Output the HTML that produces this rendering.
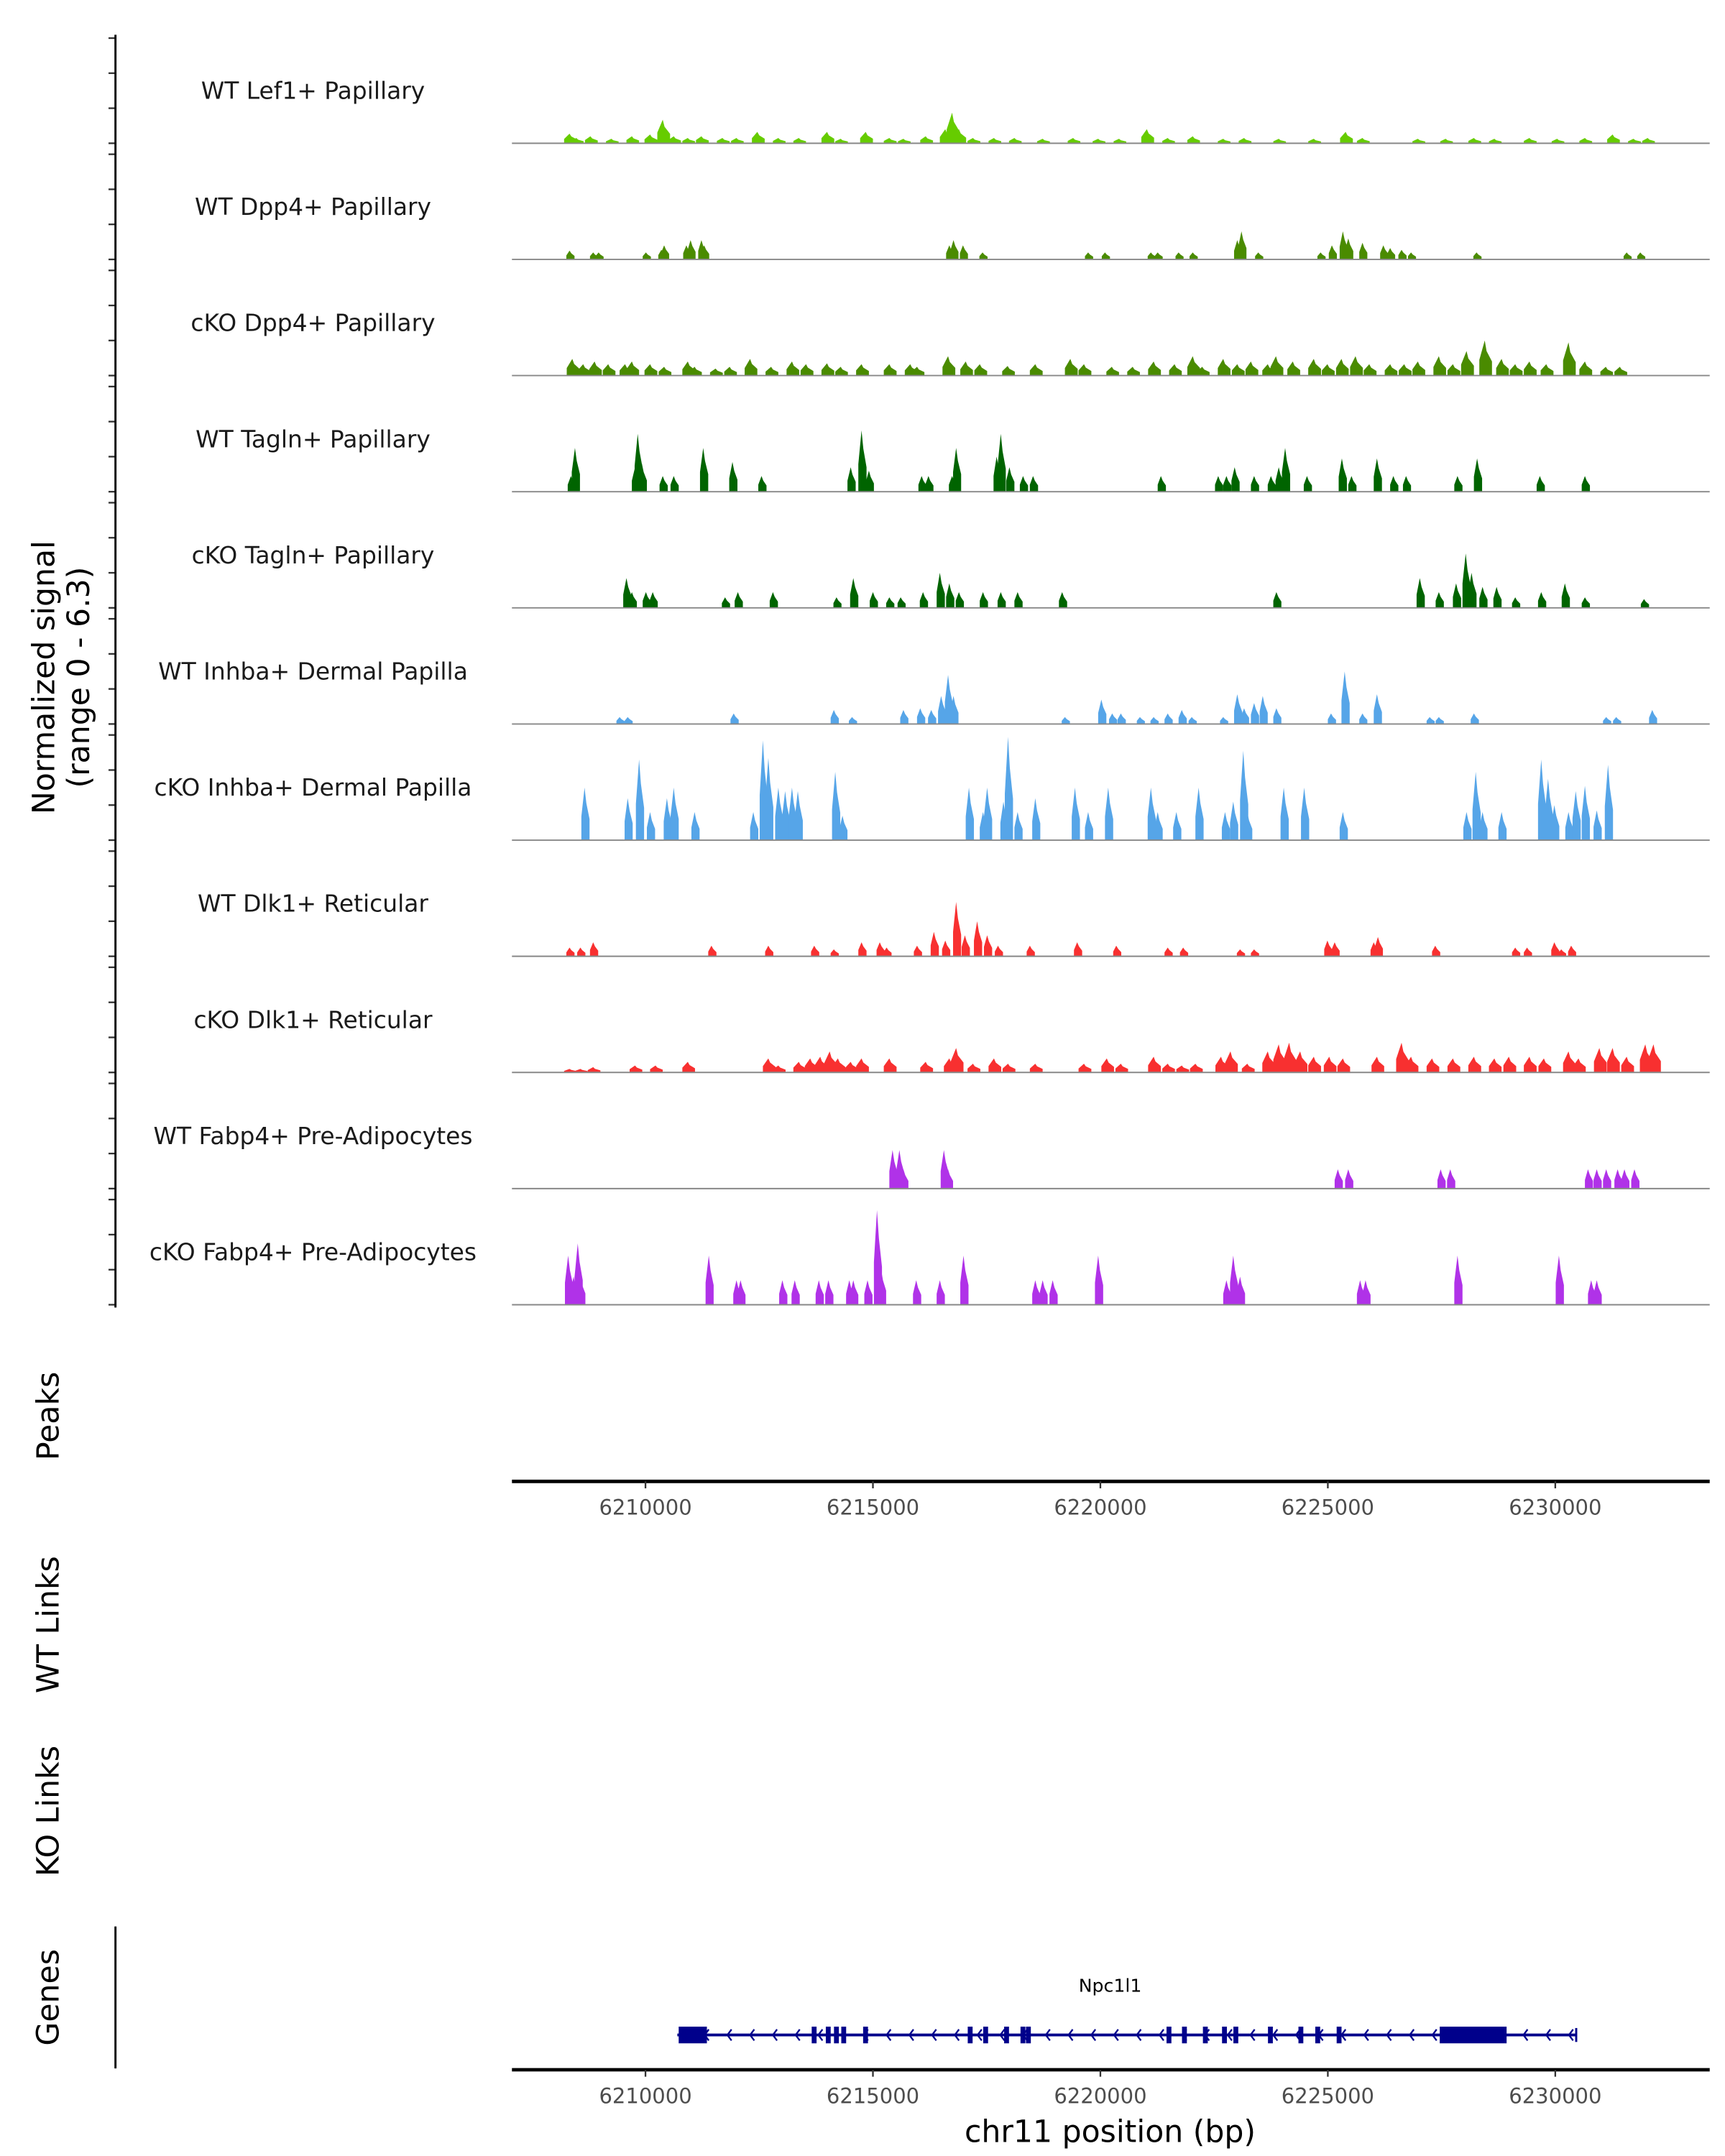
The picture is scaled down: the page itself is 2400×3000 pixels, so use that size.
<!DOCTYPE html>
<html><head><meta charset="utf-8">
<style>html,body{margin:0;padding:0;background:#fff}svg{display:block}text{font-family:"DejaVu Sans","Liberation Sans",sans-serif}</style>
</head><body>
<svg id="chart" xmlns="http://www.w3.org/2000/svg" width="2400" height="3000" viewBox="0 0 1240 1550">
<rect width="1240" height="1550" fill="#fff"/>
<g id="tracks"></g>
<g id="axes"></g>
</svg>
<script>
// ---- data (positions in kb on chr11, signal values) ----
const trackNames = ["WT Lef1+ Papillary","WT Dpp4+ Papillary","cKO Dpp4+ Papillary","WT Tagln+ Papillary","cKO Tagln+ Papillary","WT Inhba+ Dermal Papilla","cKO Inhba+ Dermal Papilla","WT Dlk1+ Reticular","cKO Dlk1+ Reticular","WT Fabp4+ Pre-Adipocytes","cKO Fabp4+ Pre-Adipocytes"];
const trackColors = ["#66cc00","#4a8b00","#4a8b00","#006400","#006400","#56a5e8","#56a5e8","#f83030","#f83030","#b032e8","#b032e8"];
const lef1Pos = [6208.35,6208.50,6208.81,6209.27,6209.72,6210.12,6210.40,6210.64,6210.95,6211.25,6211.71,6212.02,6212.48,6212.94,6213.39,6214.01,6214.31,6214.86,6215.38,6215.69,6216.18,6216.61,6216.76,6216.91,6217.22,6217.68,6218.13,6218.75,6219.42,6219.97,6220.43,6221.04,6221.50,6222.05,6222.72,6223.18,6223.94,6224.71,6225.41,6225.78,6227.00,6227.61,6228.23,6228.68,6229.45,6230.06,6230.67,6231.28,6231.74,6232.05];
const lef1Val = [0.55,0.3,0.4,0.25,0.4,0.5,1.35,0.4,0.3,0.4,0.3,0.3,0.65,0.3,0.3,0.65,0.25,0.65,0.3,0.25,0.4,0.8,1.75,0.8,0.3,0.3,0.3,0.25,0.3,0.25,0.25,0.8,0.3,0.4,0.25,0.3,0.25,0.25,0.65,0.3,0.25,0.25,0.3,0.25,0.3,0.25,0.3,0.5,0.25,0.3];
const wtDppPos = [6208.35,6208.87,6208.99,6210.03,6210.37,6210.43,6210.92,6211.01,6211.25,6211.31,6216.70,6216.79,6217.00,6217.43,6219.75,6220.12,6221.13,6221.28,6221.74,6222.05,6223.03,6223.12,6223.49,6224.86,6225.11,6225.35,6225.47,6225.78,6226.24,6226.39,6226.64,6226.85,6228.29,6231.59,6231.89];
const wtDppVal = [0.5,0.4,0.4,0.4,0.55,0.8,0.8,1.1,1.1,0.8,0.8,1.1,0.8,0.4,0.4,0.4,0.4,0.4,0.4,0.4,1.1,1.6,0.4,0.4,0.8,1.6,1.2,0.95,0.8,0.65,0.55,0.4,0.4,0.4,0.4];
const koDppPos = [6208.41,6208.65,6208.90,6209.20,6209.57,6209.72,6210.12,6210.43,6210.95,6211.10,6211.56,6211.87,6212.32,6212.78,6213.24,6213.55,6214.01,6214.31,6214.77,6215.38,6215.84,6215.99,6216.67,6217.06,6217.37,6217.98,6218.59,6219.36,6219.66,6220.27,6220.73,6221.19,6221.65,6222.05,6222.26,6222.72,6223.03,6223.33,6223.70,6223.88,6224.25,6224.71,6225.01,6225.32,6225.63,6225.93,6226.39,6226.70,6227.00,6227.46,6227.77,6228.07,6228.47,6228.84,6229.14,6229.45,6229.82,6230.31,6230.67,6231.13,6231.44];
const koDppVal = [0.95,0.65,0.8,0.65,0.65,0.8,0.65,0.5,0.8,0.5,0.4,0.5,0.95,0.5,0.8,0.65,0.7,0.5,0.65,0.65,0.65,0.5,1.1,0.8,0.65,0.55,0.65,0.95,0.65,0.5,0.5,0.8,0.65,1.1,0.5,0.95,0.65,0.8,0.65,1.1,0.8,0.95,0.65,0.95,1.1,0.65,0.65,0.65,0.8,1.1,0.65,1.4,2.0,0.95,0.65,0.8,0.65,1.9,0.8,0.5,0.5];
const wtTagPos = [6208.38,6208.47,6209.79,6209.85,6209.94,6210.40,6210.64,6211.29,6211.93,6212.57,6214.53,6214.77,6214.93,6216.09,6216.24,6216.76,6216.85,6217.74,6217.83,6218.02,6218.32,6218.54,6221.35,6222.61,6222.79,6222.97,6223.40,6223.77,6223.94,6224.08,6224.56,6225.33,6225.54,6226.10,6226.46,6226.74,6227.87,6228.30,6229.68,6230.67];
const wtTagVal = [0.9,2.5,1.4,3.3,1.6,0.9,0.9,2.5,1.7,0.9,1.4,3.5,1.2,0.9,0.9,0.9,2.5,2.0,3.3,1.4,0.9,0.9,0.9,0.9,0.9,1.4,0.9,0.9,1.4,2.5,0.9,1.9,0.9,1.9,0.9,0.9,0.9,1.9,0.9,0.9];
const koTagPos = [6209.60,6209.72,6210.03,6210.18,6211.77,6212.05,6212.82,6214.22,6214.59,6215.02,6215.38,6215.63,6216.12,6216.49,6216.70,6216.91,6217.44,6217.83,6218.20,6219.18,6223.89,6227.04,6227.46,6227.84,6228.05,6228.18,6228.42,6228.73,6229.14,6229.71,6230.23,6230.67,6231.97];
const koTagVal = [1.7,0.9,0.9,0.9,0.6,0.9,0.9,0.6,1.7,0.9,0.6,0.6,0.9,2.0,1.4,0.9,0.9,0.9,0.9,0.9,0.9,1.7,0.9,1.4,3.1,2.0,1.2,1.2,0.6,0.9,1.4,0.6,0.5];
const wtInhPos = [6209.45,6209.63,6211.96,6214.16,6214.56,6215.69,6216.06,6216.30,6216.52,6216.67,6216.79,6219.24,6220.04,6220.28,6220.47,6220.89,6221.19,6221.50,6221.81,6222.03,6222.72,6223.03,6223.18,6223.40,6223.59,6223.89,6225.09,6225.39,6225.78,6226.10,6227.26,6227.46,6228.23,6231.14,6231.36,6232.15];
const wtInhVal = [0.4,0.4,0.6,0.8,0.4,0.8,0.9,0.8,1.6,2.8,1.6,0.4,1.4,0.6,0.6,0.4,0.4,0.6,0.8,0.4,0.4,1.7,0.9,1.2,1.6,0.9,0.6,3.0,0.6,1.7,0.4,0.4,0.6,0.4,0.4,0.8];
const koInhPos = [6208.68,6209.63,6209.88,6210.12,6210.49,6210.64,6211.10,6212.39,6212.60,6212.72,6212.94,6213.09,6213.24,6213.37,6214.19,6214.35,6217.13,6217.44,6217.53,6217.89,6217.99,6218.20,6218.59,6219.46,6219.75,6220.19,6221.13,6221.28,6221.69,6222.18,6222.76,6222.94,6223.16,6223.25,6224.05,6224.50,6225.35,6228.07,6228.27,6228.42,6228.84,6229.71,6229.86,6230.00,6230.31,6230.47,6230.67,6230.93,6231.18];
const koInhVal = [3.0,2.4,4.6,1.6,2.4,3.0,1.6,1.6,5.7,4.7,3.0,2.8,3.0,2.8,3.9,1.4,3.0,1.6,3.0,2.2,5.9,1.6,2.4,3.0,1.6,3.0,3.0,1.6,1.6,3.0,1.6,2.2,5.1,1.6,3.0,3.0,1.6,1.6,3.9,1.6,1.6,4.6,3.5,2.0,1.6,2.8,3.1,1.7,4.3];
const wtDlkPos = [6208.35,6208.59,6208.87,6211.47,6212.72,6213.73,6214.16,6214.77,6215.17,6215.32,6215.99,6216.36,6216.61,6216.85,6217.04,6217.31,6217.53,6217.77,6218.47,6219.51,6220.37,6221.50,6221.84,6223.09,6223.40,6225.01,6225.17,6226.03,6226.12,6227.38,6229.14,6229.40,6230.00,6230.15,6230.37];
const wtDlkVal = [0.5,0.5,0.8,0.6,0.6,0.6,0.4,0.8,0.8,0.5,0.6,1.4,0.9,3.1,1.2,2.0,1.2,0.6,0.6,0.8,0.6,0.5,0.5,0.4,0.4,0.9,0.8,0.8,1.1,0.6,0.5,0.5,0.8,0.4,0.6];
const koDlkPos = [6208.35,6208.59,6208.87,6209.79,6210.24,6210.95,6212.72,6212.94,6213.39,6213.64,6213.86,6214.07,6214.25,6214.53,6214.77,6215.38,6216.18,6216.70,6216.85,6217.22,6217.68,6217.99,6218.59,6219.66,6220.16,6220.47,6221.19,6221.50,6221.81,6222.11,6222.67,6222.88,6223.25,6223.70,6223.94,6224.17,6224.41,6224.71,6225.05,6225.35,6226.10,6226.64,6226.85,6227.31,6227.77,6228.23,6228.68,6229.00,6229.45,6229.77,6230.31,6230.53,6230.99,6231.28,6231.59,6232.00,6232.18];
const koDlkVal = [0.2,0.2,0.3,0.4,0.4,0.6,0.8,0.4,0.6,0.8,0.9,1.2,0.8,0.6,0.8,0.8,0.6,0.8,1.4,0.5,0.8,0.5,0.5,0.5,0.8,0.5,0.9,0.5,0.4,0.5,0.9,1.2,0.5,1.2,1.6,1.7,1.2,0.9,0.9,0.8,0.9,1.7,0.9,0.8,0.8,0.9,0.8,0.9,0.9,0.8,1.2,0.8,1.4,1.4,0.9,1.6,1.6];
const wtFabPos = [6215.45,6215.60,6215.69,6216.58,6216.67,6225.24,6225.47,6227.50,6227.71,6230.74,6230.93,6231.14,6231.39,6231.54,6231.76];
const wtFabVal = [2.2,2.2,1.1,2.2,1.1,1.1,1.1,1.1,1.1,1.1,1.1,1.1,1.1,1.1,1.1];
const koFabPos = [6208.32,6208.44,6208.53,6208.59,6211.41,6212.02,6212.11,6213.03,6213.30,6213.83,6214.04,6214.50,6214.59,6214.90,6215.11,6215.20,6215.97,6216.49,6217.01,6218.59,6218.75,6218.97,6219.97,6222.79,6222.94,6223.09,6225.73,6225.85,6227.87,6230.10,6230.81,6230.93];
const koFabVal = [2.8,1.6,3.5,1.6,2.8,1.4,1.4,1.4,1.4,1.4,1.4,1.4,1.4,1.4,5.4,2.0,1.4,1.4,2.8,1.4,1.4,1.4,2.8,1.4,2.8,1.6,1.4,1.4,2.8,2.8,1.4,1.4];
const xTicks = [6210,6215,6220,6225,6230];
const xTickLabels = ["6210000","6215000","6220000","6225000","6230000"];
const yTicks = [0,2,4,6];
const geneStart = 6210.70, geneEnd = 6230.46;
const bigExonStarts = [6210.73,6227.46];
const bigExonEnds = [6211.35,6228.93];
const smallExons = [6213.70,6214.01,6214.19,6214.35,6214.83,6217.13,6217.47,6217.93,6218.29,6218.41,6221.50,6221.84,6222.30,6222.72,6222.97,6223.73,6224.40,6224.77,6225.24];

const trackPos = [lef1Pos,wtDppPos,koDppPos,wtTagPos,koTagPos,wtInhPos,koInhPos,wtDlkPos,koDlkPos,wtFabPos,koFabPos];
const trackVal = [lef1Val,wtDppVal,koDppVal,wtTagVal,koTagVal,wtInhVal,koInhVal,wtDlkVal,koDlkVal,wtFabVal,koFabVal];

// ---- scales ----
const NS="http://www.w3.org/2000/svg";
const X = kb => 464 + (kb-6210)*32.7;
const baseY = i => 103 + i*83.5;
const H = v => v*12.6;
function mk(tag, attrs, parent, txt){const e=document.createElementNS(NS,tag);for(const k in attrs)e.setAttribute(k,attrs[k]);if(txt!==undefined)e.textContent=txt;parent.appendChild(e);return e;}
const tracksG=document.getElementById('tracks'), axesG=document.getElementById('axes');

trackNames.forEach((name,i)=>{
  const g=mk('g',{},tracksG);
  
  
  const by=baseY(i);
  const lab=mk('text',{x:225,y:by-32,'text-anchor':'middle','font-size':17,fill:'#1a1a1a'},g,name);
  
  
  const pos=trackPos[i], val=trackVal[i];
  const w = (i===0||i===2||i===8)?0.14:0.09;
  pos.forEach((p,j)=>{
    const h=H(val[j]);
    const pts=[[X(p-w),by],[X(p-w),by-h*0.45],[X(p-0.02),by-h],[X(p+0.02),by-h*0.7],[X(p+w),by-h*0.4],[X(p+w),by]];
    const poly=mk('polygon',{points:pts.map(a=>a[0].toFixed(1)+','+a[1].toFixed(1)).join(' '),fill:trackColors[i]},g);
    
    
  });
  const bl=mk('line',{x1:368,x2:1229,y1:by,y2:by,stroke:'#888',
    'stroke-width':1},g);
  
  
  yTicks.forEach(t=>{
    const tk=mk('line',{x1:78,x2:83,y1:by-H(t),y2:by-H(t),stroke:'#333','stroke-width':1.2},axesG);
    
    
  });
});
// y axis
const ya=mk('line',{x1:83,x2:83,y1:25,y2:940,stroke:'#000','stroke-width':1.5},axesG);


const yt=mk('text',{transform:'translate(42,487) rotate(-90)','text-anchor':'middle','font-size':22,fill:'#000'},axesG);


mk('tspan',{x:0,dy:-3},yt,'Normalized signal');
mk('tspan',{x:0,dy:25},yt,'(range 0 - 6.3)');

function xAxis(y, name){
  const g=mk('g',{},axesG);
  
  
  mk('line',{x1:368,x2:1229,y1:y,y2:y,stroke:'#000','stroke-width':2.5},g);
  xTicks.forEach((t,k)=>{
    mk('line',{x1:X(t),x2:X(t),y1:y,y2:y+5,stroke:'#333','stroke-width':1.2},g);
    const tl=mk('text',{x:X(t),y:y+24,'text-anchor':'middle','font-size':15,fill:'#4d4d4d'},g,xTickLabels[k]);
    
    
  });
}
xAxis(1065,'peaks-x-axis');
xAxis(1488,'genes-x-axis');

function sideLabel(txt,y,name){
  const t=mk('text',{transform:'translate(42,'+y+') rotate(-90)','text-anchor':'middle','font-size':22,fill:'#000'},axesG,txt);
  
  
}
sideLabel('Peaks',1018,'peaks-label');
sideLabel('WT Links',1168,'wt-links-label');
sideLabel('KO Links',1302,'ko-links-label');
sideLabel('Genes',1436,'genes-label');
const ga=mk('line',{x1:83,x2:83,y1:1385,y2:1487,stroke:'#000','stroke-width':1.5},axesG);



// gene model
const gg=mk('g',{},axesG);


const gy=1463;
mk('text',{x:798,y:1432,'text-anchor':'middle','font-size':13,fill:'#000'},gg,'Npc1l1');
mk('line',{x1:X(geneStart),x2:X(geneEnd),y1:gy,y2:gy,stroke:'#00008b','stroke-width':2},gg);
for(let kb=geneStart+0.6; kb<geneEnd-0.1; kb+=0.5){
  const cx=X(kb);
  mk('polyline',{points:(cx+3)+','+(gy-4)+' '+cx+','+gy+' '+(cx+3)+','+(gy+4),fill:'none',stroke:'#00008b','stroke-width':1.2},gg);
}
bigExonStarts.forEach((s,k)=>{
  const r=mk('rect',{x:X(s),y:gy-6,width:X(bigExonEnds[k])-X(s),height:12,fill:'#00008b'},gg);
  
  
});
smallExons.forEach(s=>{
  const r=mk('rect',{x:X(s)-1.5,y:gy-6,width:3.5,height:12,fill:'#00008b'},gg);
  
  
});
mk('line',{x1:X(geneEnd),x2:X(geneEnd),y1:gy-5,y2:gy+5,stroke:'#00008b','stroke-width':1.5},gg);

const xt=mk('text',{x:798,y:1540,'text-anchor':'middle','font-size':22,fill:'#000'},axesG,'chr11 position (bp)');


</script>
</body></html>
